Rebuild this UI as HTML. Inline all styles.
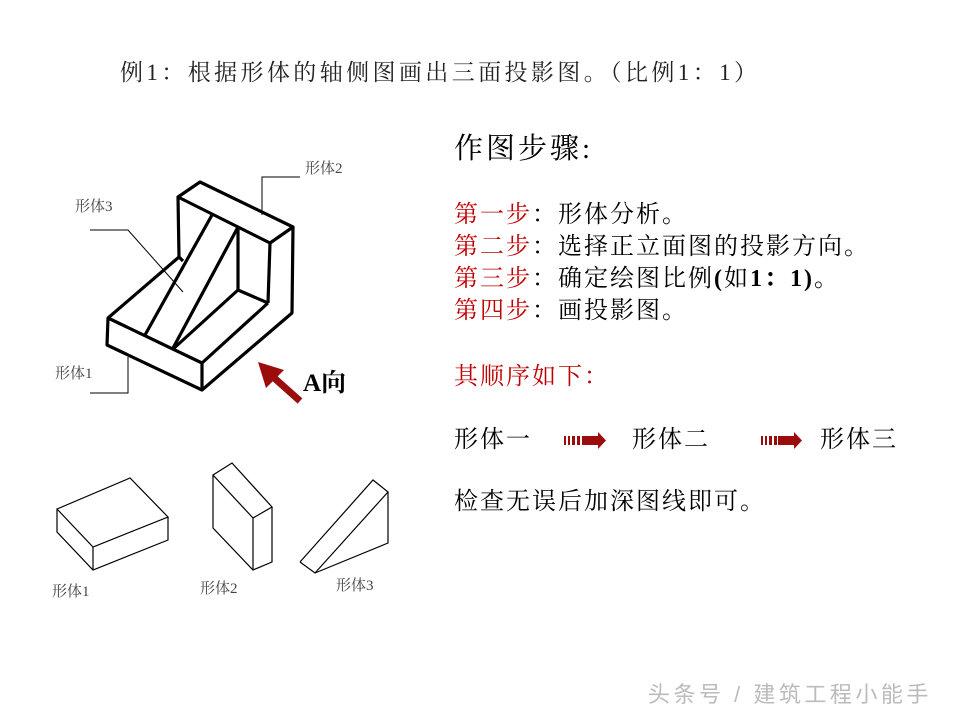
<!DOCTYPE html>
<html><head><meta charset="utf-8"><style>
body{margin:0;background:#fff;}
.wrap{position:relative;width:960px;height:720px;overflow:hidden;font-family:"Liberation Serif","Noto Serif CJK SC",serif;}
.t{position:absolute;white-space:nowrap;line-height:1;}
.s{font-size:24px;letter-spacing:2px;}
.r{color:#c00000;}
</style></head><body><div class="wrap">
<div class="t" style="left:120px;top:61px;font-size:23px;color:#222;letter-spacing:3.4px;">例1：根据形体的轴侧图画出三面投影图。（比例1：1）</div>
<div class="t" style="left:454px;top:135px;font-size:29px;color:#000;letter-spacing:3px;">作图步骤:</div>
<div class="t s" style="left:454px;top:203px;"><span class="r">第一步</span>：形体分析。</div>
<div class="t s" style="left:454px;top:235px;"><span class="r">第二步</span>：选择正立面图的投影方向。</div>
<div class="t s" style="left:454px;top:267px;"><span class="r">第三步</span>：确定绘图比例<b>(</b>如<b>1：1)</b>。</div>
<div class="t s" style="left:454px;top:299px;"><span class="r">第四步</span>：画投影图。</div>
<div class="t r s" style="left:454px;top:365px;">其顺序如下：</div>
<div class="t s" style="left:454px;top:428px;">形体一</div>
<div class="t s" style="left:632px;top:428px;">形体二</div>
<div class="t s" style="left:820px;top:428px;">形体三</div>
<div class="t s" style="left:454px;top:490px;">检查无误后加深图线即可。</div>
<div class="t" style="left:303px;top:371px;font-size:25px;font-weight:bold;">A向</div>
<div class="t" style="left:305px;top:162px;font-size:15px;color:#444;">形体2</div>
<div class="t" style="left:75px;top:200px;font-size:15px;color:#444;">形体3</div>
<div class="t" style="left:55px;top:367px;font-size:15px;color:#444;">形体1</div>
<div class="t" style="left:52px;top:585px;font-size:15px;color:#444;">形体1</div>
<div class="t" style="left:200px;top:582px;font-size:15px;color:#444;">形体2</div>
<div class="t" style="left:336px;top:579px;font-size:15px;color:#444;">形体3</div>
<div class="t" style="left:648px;top:684px;font-size:22px;color:#bbb;letter-spacing:3.5px;font-family:'Liberation Sans','Noto Sans CJK SC',sans-serif;">头条号 / 建筑工程小能手</div>
<svg width="960" height="720" style="position:absolute;left:0;top:0">
<g fill="none" stroke="#000" stroke-width="3.2" stroke-linejoin="round">
<polygon points="178,197 200,182 293,227 270,243"/>
<line x1="178" y1="197" x2="179" y2="257"/>
<line x1="270" y1="243" x2="268" y2="303"/>
<polyline points="293,227 292,313 202,390 107,345 108,318 179,257 183,261"/>
<polyline points="108,318 202,363 268,303"/>
<line x1="202" y1="363" x2="202" y2="390"/>
<line x1="238" y1="227" x2="238" y2="290"/>
<line x1="238" y1="290" x2="268" y2="303"/>
<line x1="238" y1="290" x2="172" y2="350"/>
<line x1="238" y1="227" x2="172" y2="350"/>
<line x1="212" y1="215" x2="145" y2="335"/>
</g>
<g fill="none" stroke="#000" stroke-width="1">
<polyline points="262,215 262,177 300,177"/>
<polyline points="90,230 128,230 183,292"/>
<polyline points="90,393 128,393 128,357"/>
</g>
<g fill="none" stroke="#000" stroke-width="1.2">
<polygon points="57,509 130,478 168,517 93,547"/>
<polyline points="57,509 57,532 93,570 168,540 168,517"/>
<line x1="93" y1="547" x2="93" y2="570"/>
<polygon points="213,475 232,463 272,507 253,518"/>
<polyline points="213,475 213,528 253,570 272,562 272,507"/>
<line x1="253" y1="518" x2="253" y2="570"/>
<polyline points="300,562 373,480 388,492 315,573 300,562"/>
<polyline points="388,492 388,543 315,573"/>
</g>
<g fill="#9b0d0d">
<line x1="300" y1="401" x2="272" y2="376" stroke="#9b0d0d" stroke-width="7"/>
<polygon points="258,362 284,370 266,388"/>
<rect x="582" y="436" width="16" height="9"/>
<polygon points="598,432 606,440.5 598,449"/>
<rect x="778" y="436" width="16" height="9"/>
<polygon points="794,432 802,440.5 794,449"/>
<rect x="564" y="436" width="2" height="9"/><rect x="568" y="436" width="2" height="9"/><rect x="572" y="436" width="3" height="9"/><rect x="577" y="436" width="3" height="9"/>
<rect x="761" y="436" width="2" height="9"/><rect x="765" y="436" width="2" height="9"/><rect x="769" y="436" width="3" height="9"/><rect x="774" y="436" width="3" height="9"/>
</g>
</svg>
</div></body></html>
